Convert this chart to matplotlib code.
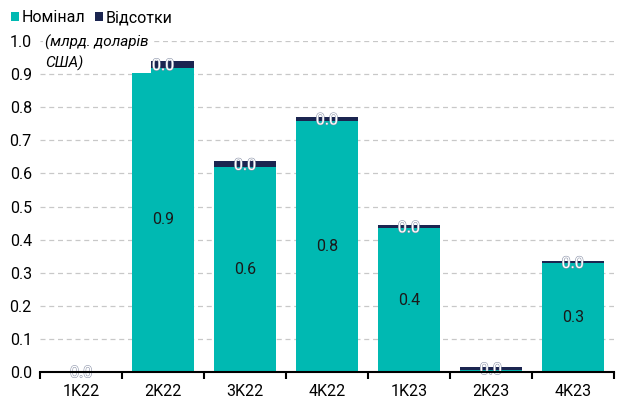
import matplotlib.pyplot as plt
import matplotlib.patheffects as pe
import numpy as np

plt.rcParams['font.family'] = ['Roboto', 'DejaVu Sans']

quarters = ["1K22", "2K22", "3K22", "4K22", "1K23", "2K23", "4K23"]
nominal = [0.001, 0.92, 0.62, 0.76, 0.435, 0.007, 0.329]
interest = [0.001, 0.02, 0.017, 0.011, 0.009, 0.008, 0.006]

teal = "#00B9B2"
navy = "#1B2550"

fig = plt.figure(figsize=(6.18, 4.03), dpi=100)
ax = fig.add_axes([0.065, 0.077, 0.928, 0.821])

x = np.arange(len(quarters))
b1 = ax.bar(x, nominal, width=0.76, color=teal, label="Номінал", zorder=2)
b2 = ax.bar(x, interest, width=0.76, bottom=nominal, color=navy, label="Відсотки", zorder=2)

for i in range(len(x)):
    ax.text(x[i], nominal[i] / 2, f"{nominal[i]:.1f}" if nominal[i] > 0.05 else "",
            ha="center", va="center", fontsize=11.5, color="#1a1a1a", zorder=3)
    ax.text(x[i], nominal[i] + interest[i] / 2 - 0.004, f"{interest[i]:.1f}",
            ha="center", va="center", fontsize=11.5, color="white", zorder=3,
            path_effects=[pe.withStroke(linewidth=0.8, foreground="#8a92a8")])

ax.set_ylim(0, 1.0)
ax.set_xlim(-0.5, len(quarters) - 0.5)
ax.set_yticks(np.arange(0, 1.01, 0.1))
ax.set_yticklabels([f"{v:.1f}" for v in np.arange(0, 1.01, 0.1)], fontsize=11.5)
ax.tick_params(axis="y", length=0, pad=6)
ax.yaxis.grid(True, linestyle=(0, (4, 3)), color="#c8c8c8", linewidth=0.9, zorder=0)

ax.set_xticks(np.arange(-0.5, len(quarters), 1))
ax.set_xticklabels([])
ax.set_xticks(x, minor=True)
ax.set_xticklabels(quarters, minor=True, fontsize=11.5)
ax.tick_params(axis="x", which="major", length=5, width=1.5, direction="out")
ax.tick_params(axis="x", which="minor", length=0, pad=9)

for s in ["top", "right", "left"]:
    ax.spines[s].set_visible(False)
ax.spines["bottom"].set_linewidth(1.5)
ax.spines["bottom"].set_zorder(4)

ax.text(0.008, 1.02, "(млрд. доларів\nСША)", transform=ax.transAxes, ha="left", va="top",
        fontsize=11, style="italic", linespacing=1.5, zorder=5,
        bbox=dict(facecolor="white", edgecolor="none", pad=1.5))

fig.legend(handles=[b1, b2], loc="upper left", bbox_to_anchor=(-0.005, 1.01), ncol=2,
           frameon=False, fontsize=11.5, handlelength=0.5, handleheight=0.5,
           handletextpad=0.15, columnspacing=0.6)

fig.savefig("out.png", dpi=100)
